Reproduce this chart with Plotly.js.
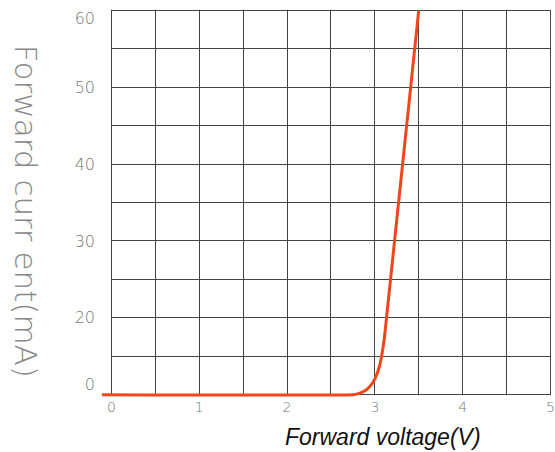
<!DOCTYPE html>
<html>
<head>
<meta charset="utf-8">
<script src="https://cdn.plot.ly/plotly-3.0.1.min.js"></script>
<style>html,body{margin:0;padding:0;background:#fff;}#chart{width:555px;height:452px;}</style>
</head>
<body>
<div id="chart"></div>
<script>
// Curve (x in V, y in the chart's vertical units)
var voltage = [-0.11, 2.75, 2.83, 2.90, 2.96, 3.01, 3.05, 3.08, 3.11, 3.50];
var current = [10, 10, 10.2, 10.6, 11.3, 12.3, 13.6, 15.2, 17.5, 60];

// Tick labels as printed on the chart
var xTickVals = [0, 1, 2, 3, 4, 5];
var xTickText = ["0", "1", "2", "3", "4", "5"];
var yTickVals = [11.3, 20, 30, 40, 50, 58.9];
var yTickText = ["0", "20", "30", "40", "50", "60"];

var trace = {
  x: voltage,
  y: current,
  mode: 'lines',
  line: {color: '#f2461a', width: 3, shape: 'spline', smoothing: 0.3},
  hoverinfo: 'skip'
};

var dummy = {x: [0], y: [10], yaxis: 'y2', mode: 'markers', marker: {opacity: 0}, hoverinfo: 'skip'};

var white = {type: 'rect', layer: 'between', fillcolor: '#ffffff', line: {width: 0}};
function cover(x0, x1, y0, y1) {
  return Object.assign({}, white, {xref: 'x', yref: 'y', x0: x0, x1: x1, y0: y0, y1: y1});
}

var layout = {
  width: 555, height: 452,
  margin: {l: 101, r: 2, t: 8, b: 55},
  paper_bgcolor: '#ffffff', plot_bgcolor: '#ffffff',
  showlegend: false,
  xaxis: {
    range: [-0.12, 5.03],
    tickmode: 'array', tickvals: xTickVals, ticktext: xTickText,
    ticklabeloverflow: 'allow',
    showgrid: true, gridcolor: '#444', gridwidth: 1,
    minor: {dtick: 0.5, tick0: 0, showgrid: true, gridcolor: '#444', gridwidth: 1},
    zeroline: false, showline: false,
    ticks: '', tickfont: {family: 'DejaVu Sans', size: 14, weight: 200, color: '#777'}
  },
  yaxis: {
    range: [9.7, 60.3], tick0: 10, dtick: 5,
    showgrid: true, gridcolor: '#444', gridwidth: 1,
    zeroline: false, showline: false,
    showticklabels: false, ticks: ''
  },
  yaxis2: {
    overlaying: 'y', side: 'left', range: [9.7, 60.3],
    tickmode: 'array', tickvals: yTickVals, ticktext: yTickText,
    showgrid: false, zeroline: false, showline: false, ticks: '',
    ticklabelstandoff: 5,
    tickfont: {family: 'DejaVu Sans', size: 16, weight: 200, color: '#777'}
  },
  shapes: [
    cover(-0.12, -0.007, 9.7, 60.3),
    cover(-0.12, 5.03, 9.7, 9.93),
    cover(-0.12, 5.03, 60.07, 60.3),
    cover(5.007, 5.03, 9.7, 60.3)
  ],
  annotations: [
    {text: 'Forward curr ent(mA)', xref: 'paper', yref: 'paper', x: -0.166, y: 0.476,
     xanchor: 'center', yanchor: 'middle', textangle: 90, showarrow: false,
     font: {family: 'DejaVu Sans', size: 31, weight: 200, color: '#888'}},
    {text: '<i>Forward voltage(V)</i>', xref: 'paper', yref: 'paper', x: 0.624, y: -0.103,
     xanchor: 'center', yanchor: 'middle', showarrow: false,
     font: {family: 'Liberation Sans Narrow, Liberation Sans', size: 23, color: '#111'}}
  ]
};

Plotly.newPlot('chart', [trace, dummy], layout, {staticPlot: true});
</script>
</body>
</html>
